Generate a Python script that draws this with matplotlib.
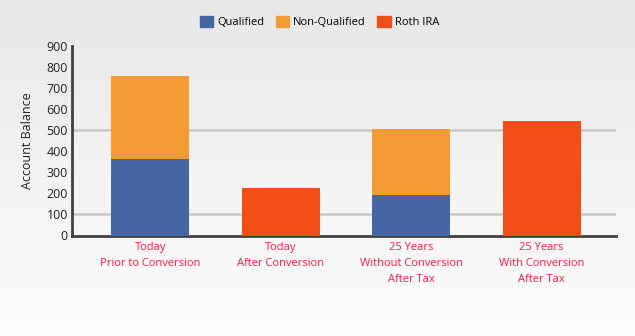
import numpy as np
import matplotlib
matplotlib.use("Agg")
import matplotlib.pyplot as plt
from matplotlib.patches import Patch
from matplotlib.colors import LinearSegmentedColormap

categories = ["Today\nPrior to Conversion", "Today\nAfter Conversion",
              "25 Years\nWithout Conversion\nAfter Tax", "25 Years\nWith Conversion\nAfter Tax"]
qualified = [365, 0, 190, 0]
non_qualified = [392, 0, 316, 0]
roth_ira = [0, 226, 0, 545]
yticks = [0, 100, 200, 300, 400, 500, 600, 700, 800, 900]
gridlines = [100, 500]

c_q, c_nq, c_roth = "#4466a3", "#f39c35", "#f04e16"

plt.rcParams['font.family'] = ['Open Sans', 'DejaVu Sans']

fig = plt.figure(figsize=(6.35, 3.36), dpi=100)
bg = fig.add_axes([0, 0, 1, 1], zorder=-10)
grad = np.linspace(0, 1, 256).reshape(-1, 1)
cmap = LinearSegmentedColormap.from_list("g", ["#e8e8e8", "#fdfdfd"])
bg.imshow(grad, aspect="auto", cmap=cmap, extent=[0, 1, 1, 0])
bg.axis("off")

ax = fig.add_axes([72/635, 1-235.5/336, (616-72)/635, (235.5-46)/336])
ax.patch.set_alpha(0)
x = np.arange(len(categories))
w = 0.6
ax.bar(x, qualified, w, color=c_q, zorder=3)
ax.bar(x, non_qualified, w, bottom=qualified, color=c_nq, zorder=3)
ax.bar(x, roth_ira, w, bottom=np.array(qualified) + np.array(non_qualified), color=c_roth, zorder=3)

for g in gridlines:
    ax.axhline(g, color="#c8c8c8", lw=1.8, zorder=1)

ax.set_xlim(-0.6, 3.57)
ax.set_ylim(0, 900)
ax.set_yticks(yticks)
ax.set_yticklabels([str(v) for v in yticks], fontsize=9, color="#222222")
ax.set_xticks(x)
ax.set_xticklabels(categories, fontsize=8, color="#ff1a40", linespacing=1.6)
ax.tick_params(length=0, pad=3)
ax.tick_params(axis='x', pad=5)
for s in ["top", "right"]:
    ax.spines[s].set_visible(False)
for s in ["left", "bottom"]:
    ax.spines[s].set_color("#404040")
    ax.spines[s].set_linewidth(2)
ax.set_ylabel("Account Balance", fontsize=9, color="#222222", labelpad=9)

handles = [Patch(color=c_q, label="Qualified"), Patch(color=c_nq, label="Non-Qualified"),
           Patch(color=c_roth, label="Roth IRA")]
fig.legend(handles=handles, loc="center", bbox_to_anchor=(0.503, 1-22/336), ncol=3,
           frameon=False, fontsize=8, handlelength=1.2, handleheight=1.2,
           handletextpad=0.4, columnspacing=1.0)

fig.savefig("out.png", dpi=100)
